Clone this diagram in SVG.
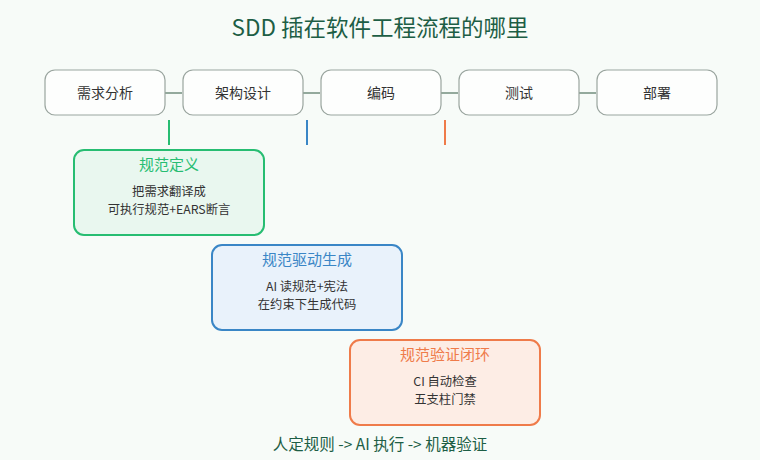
<svg xmlns="http://www.w3.org/2000/svg" width="760" height="460" viewBox="0 0 760 460">
<style>
text{font-family:"Noto Sans CJK SC","Noto Sans",sans-serif;text-anchor:middle}
.title{font-size:22.5px;fill:#1d5e45}
.stage rect{fill:#fdfefd;stroke:#9aa59f;stroke-width:1.2}
.stage text{font-size:14px;fill:#333}
.conn{stroke:#93a99c;stroke-width:2}
.card rect{stroke-width:2}
.ct{font-size:15px}
.cb{font-size:12.3px;fill:#333}
.foot{font-size:15.5px;fill:#1d5e45}
</style>
<rect width="760" height="460" fill="#f7fbf8"/>
<text class="title" x="380" y="36">SDD 插在软件工程流程的哪里</text>
<g id="connectors">
<line class="conn" x1="165" y1="93" x2="182" y2="93"/>
<line class="conn" x1="303" y1="93" x2="320" y2="93"/>
<line class="conn" x1="441" y1="93" x2="458" y2="93"/>
<line class="conn" x1="579" y1="93" x2="596" y2="93"/>
<line x1="169" y1="120" x2="169" y2="145" stroke="#27bd72" stroke-width="2"/>
<line x1="307" y1="120" x2="307" y2="145" stroke="#3a86c6" stroke-width="2"/>
<line x1="445" y1="120" x2="445" y2="145" stroke="#ef7b4a" stroke-width="2"/>
</g>
<g id="s1" class="stage"><rect x="45" y="70" width="120" height="45" rx="10"/><text x="105" y="98">需求分析</text></g>
<g id="s2" class="stage"><rect x="183" y="70" width="120" height="45" rx="10"/><text x="243" y="98">架构设计</text></g>
<g id="s3" class="stage"><rect x="321" y="70" width="120" height="45" rx="10"/><text x="381" y="98">编码</text></g>
<g id="s4" class="stage"><rect x="459" y="70" width="120" height="45" rx="10"/><text x="519" y="98">测试</text></g>
<g id="s5" class="stage"><rect x="597" y="70" width="120" height="45" rx="10"/><text x="657" y="98">部署</text></g>
<g id="c1" class="card"><rect x="74" y="150" width="190" height="85" rx="10" fill="#e9f7ef" stroke="#27bd72"/>
<text class="ct" x="169" y="170" fill="#27bd72">规范定义</text>
<text class="cb" x="169" y="196">把需求翻译成</text>
<text class="cb" x="169" y="214">可执行规范+EARS断言</text></g>
<g id="c2" class="card"><rect x="212" y="245" width="190" height="85" rx="10" fill="#e9f2fb" stroke="#3a86c6"/>
<text class="ct" x="307" y="265" fill="#3a86c6">规范驱动生成</text>
<text class="cb" x="307" y="291">AI 读规范+宪法</text>
<text class="cb" x="307" y="309">在约束下生成代码</text></g>
<g id="c3" class="card"><rect x="350" y="340" width="190" height="85" rx="10" fill="#fdede5" stroke="#ef7b4a"/>
<text class="ct" x="445" y="360" fill="#ef7b4a">规范验证闭环</text>
<text class="cb" x="445" y="386">CI 自动检查</text>
<text class="cb" x="445" y="404">五支柱门禁</text></g>
<text class="foot" x="380" y="450">人定规则 -&gt; AI 执行 -&gt; 机器验证</text>
</svg>
